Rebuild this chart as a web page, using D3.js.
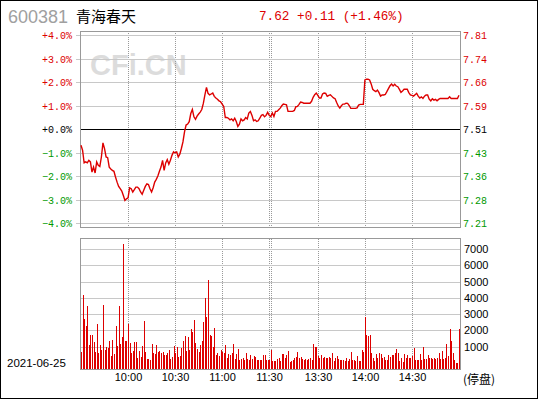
<!DOCTYPE html>
<html>
<head>
<meta charset="utf-8">
<script src="https://cdnjs.cloudflare.com/ajax/libs/d3/7.8.5/d3.min.js"></script>
<style>
  body { margin: 0; background: #fff; }
  svg { display: block; }
  .grid line { stroke: #999; stroke-dasharray: 1,1; }
  .grid .domain { display: none; }
  .lbl text { font-family: "Liberation Mono", "DejaVu Sans Mono", monospace; font-size: 10px; }
  .lbl .domain, .lbl line { display: none; }
  .sans text { font-family: "Liberation Sans", Arial, sans-serif; font-size: 11px; fill: #000; }
  .sans .domain, .sans line { display: none; }
</style>
</head>
<body>
<div id="chart"></div>
<script>
'use strict';

// header
var stockCode = '600381';
var stockName = '青海春天';
var lastPrice = 7.62;
var prevClose = 7.51;
var tradeDate = '2021-06-25';

// x axis: minute index 0..241 (9:30-11:30, 13:00-15:00)
var gridIndexes = [30, 60, 90, 120, 121, 151, 181, 211];
var timeIndexes = [30, 60, 90, 120, 151, 181, 211];
var timeLabels = ['10:00', '10:30', '11:00', '11:30', '13:30', '14:00', '14:30'];

var pctTicks = [4, 3, 2, 1, 0, -1, -2, -3, -4];
var volTicks = [1000, 2000, 3000, 4000, 5000, 6000, 7000];

// percent change vs previous close, one per minute
var pctChange = [
  -0.67, -0.88, -1.42, -1.38, -1.42, -1.31, -1.38, -1.81, -1.60, -1.85,
  -1.38, -1.52, -1.57, -1.17, -0.57, -0.81, -1.17, -1.20, -1.60, -1.68,
  -1.74, -1.78, -2.02, -2.24, -2.42, -2.52, -2.62, -2.81, -3.02, -2.95,
  -2.91, -2.48, -2.52, -2.66, -2.56, -2.45, -2.45, -2.52, -2.66, -2.76,
  -2.59, -2.42, -2.31, -2.34, -2.52, -2.66, -2.48, -2.24, -2.12, -1.98,
  -1.78, -1.60, -1.31, -1.74, -1.42, -1.28, -1.48, -1.31, -1.10, -0.95,
  -1.00, -0.95, -1.17, -1.05, -0.81, -0.53, -0.10, 0.19, 0.23, 0.33,
  0.68, 0.85, 0.54, 0.43, 0.57, 0.66, 0.74, 0.85, 1.11, 1.47,
  1.79, 1.54, 1.47, 1.51, 1.55, 1.41, 1.34, 1.29, 1.22, 1.18,
  1.08, 0.98, 0.51, 0.51, 0.48, 0.41, 0.45, 0.37, 0.48, 0.34,
  0.13, 0.23, 0.45, 0.37, 0.41, 0.51, 0.45, 0.70, 0.77, 0.60,
  0.37, 0.41, 0.34, 0.37, 0.48, 0.60, 0.63, 0.54, 0.60, 0.73,
  0.60, 0.55, 0.70, 0.55, 0.77, 0.77, 0.84, 0.91, 1.01, 1.08,
  1.07, 1.05, 0.77, 0.77, 0.77, 0.77, 0.81, 0.97, 0.98, 1.07,
  1.17, 1.15, 1.12, 1.12, 1.12, 1.12, 1.12, 1.20, 1.37, 1.48,
  1.55, 1.45, 1.34, 1.34, 1.51, 1.55, 1.54, 1.41, 1.45, 1.48,
  1.41, 1.34, 1.31, 1.15, 1.00, 0.91, 1.01, 1.08, 1.08, 1.12,
  1.11, 1.02, 0.90, 0.90, 0.90, 0.90, 0.92, 1.04, 1.07, 1.07,
  1.07, 2.11, 2.14, 2.14, 2.11, 1.94, 1.71, 1.65, 1.61, 1.68,
  1.57, 1.42, 1.47, 1.47, 1.49, 1.61, 1.74, 1.86, 1.93, 1.85,
  1.92, 1.85, 1.82, 1.71, 1.58, 1.64, 1.71, 1.71, 1.71, 1.57,
  1.47, 1.45, 1.42, 1.48, 1.54, 1.42, 1.34, 1.39, 1.32, 1.42,
  1.47, 1.47, 1.29, 1.22, 1.31, 1.25, 1.28, 1.22, 1.28, 1.32,
  1.32, 1.32, 1.32, 1.32, 1.32, 1.39, 1.32, 1.32, 1.32, 1.32,
  1.32, 1.46
];

// volume per minute (lots)
var volume = [
  670, 4160, 2730, 2300, 3530, 1080, 1690, 1690, 1280, 670,
  2420, 590, 1080, 770, 3590, 790, 1000, 930, 1340, 420,
  1400, 530, 2300, 1040, 3480, 1140, 1590, 7320, 1340, 1340,
  2420, 1200, 590, 730, 1280, 1280, 320, 710, 360, 1040,
  2570, 670, 220, 220, 180, 1140, 590, 570, 1080, 670,
  730, 590, 670, 490, 470, 590, 790, 220, 360, 1040,
  590, 1000, 380, 420, 930, 1340, 1650, 730, 1590, 790,
  2060, 1890, 2630, 1240, 870, 670, 1080, 1340, 2500, 3990,
  2830, 5080, 1750, 1650, 1000, 2160, 470, 590, 420, 790,
  670, 590, 1080, 320, 530, 470, 590, 1140, 260, 530,
  870, 180, 220, 320, 180, 590, 260, 180, 470, 260,
  420, 380, 180, 180, 180, 180, 470, 470, 180, 180,
  180, 790, 120, 120, 120, 220, 320, 120, 530, 530,
  320, 470, 730, 60, 120, 180, 320, 380, 670, 320,
  380, 220, 180, 220, 180, 260, 320, 180, 1140, 1000,
  1000, 420, 320, 470, 320, 380, 320, 320, 380, 320,
  590, 120, 320, 420, 260, 180, 180, 180, 120, 320,
  120, 260, 670, 180, 180, 120, 420, 120, 120, 790,
  670, 2810, 1750, 1650, 1750, 590, 320, 120, 530, 320,
  590, 530, 320, 380, 180, 180, 470, 380, 470, 470,
  590, 870, 590, 120, 320, 60, 530, 320, 470, 320,
  320, 420, 930, 180, 180, 180, 530, 180, 1000, 220,
  220, 470, 320, 320, 260, 320, 260, 320, 590, 260,
  730, 260, 320, 1140, 420, 2060, 1340, 590, 180, 20,
  20, 2060
];

function minuteChart() {

  var scope = this;
  var exports = {};

  scope.width = 540;
  scope.height = 400;
  scope.plot = { left: 80, right: 460 };
  scope.price = { top: 31, bottom: 227 };
  scope.vol = { top: 238, bottom: 369 };

  scope.red = '#dd0000';
  scope.green = '#009900';

  scope.xScale = d3.scaleLinear().domain([0, 241]).range([81, 459]);
  scope.xGrid = scope.xScale.copy().interpolate(d3.interpolateRound);
  scope.yPct = d3.scaleLinear().domain([-4, 4]).range([223, 35]);
  scope.yPctGrid = scope.yPct.copy().interpolate(d3.interpolateRound);
  scope.yVol = d3.scaleLinear().domain([0, 7000]).range([363, 249]);
  scope.yVolGrid = scope.yVol.copy().interpolate(d3.interpolateRound);

  function signColor(p) {
    if (p > 0) return scope.red;
    if (p < 0) return scope.green;
    return '#000';
  }

  scope.appendSVG = function(DOMObj) {
    return d3.select(DOMObj)
      .append('svg')
      .attr('width', scope.width)
      .attr('height', scope.height);
  }

  scope.appendHeader = function(svg) {
    svg.append('rect')
      .attr('x', 0.5).attr('y', 0.5)
      .attr('width', 537).attr('height', 398)
      .attr('fill', '#fff')
      .attr('stroke', '#000')
      .attr('shape-rendering', 'crispEdges');

    svg.append('text')
      .attr('x', 8).attr('y', 23)
      .style('font-family', '"Liberation Sans", Arial, sans-serif')
      .style('font-size', '18px')
      .attr('fill', '#a0a0a0')
      .text(stockCode);

    svg.append('text')
      .attr('x', 76).attr('y', 22)
      .style('font-family', '"Noto Sans CJK SC", sans-serif')
      .style('font-size', '15px')
      .attr('fill', '#000')
      .text(stockName);

    var change = lastPrice - prevClose;
    var changePct = change / prevClose * 100;
    svg.append('text')
      .attr('x', 259).attr('y', 20)
      .style('font-family', '"Liberation Mono", monospace')
      .style('font-size', '12.7px')
      .attr('fill', signColor(change))
      .style('white-space', 'pre')
      .text(lastPrice.toFixed(2) + ' ' + d3.format('+.2f')(change) + ' (' + d3.format('+.2f')(changePct) + '%)');

    svg.append('text')
      .attr('x', 90).attr('y', 75)
      .style('font-family', '"Liberation Sans", Arial, sans-serif')
      .style('font-size', '29px')
      .style('font-weight', 'bold')
      .attr('fill', '#dcdcdc')
      .text('CFi.CN');
  }

  // horizontal gridlines (light solid, roughly the tone of the dotted originals)
  scope.appendHGrid = function(svg, yScale, values, x1) {
    svg.append('g')
      .selectAll('line')
      .data(values)
      .enter()
      .append('line')
      .attr('x1', x1)
      .attr('x2', scope.plot.right)
      .attr('y1', function(d) { return yScale(d) + 0.5; })
      .attr('y2', function(d) { return yScale(d) + 0.5; })
      .attr('stroke', '#c8c8c8')
      .attr('stroke-width', 1);
  }

  scope.appendPricePanel = function(svg) {
    var h = scope.price.bottom - scope.price.top;
    var w = scope.plot.right - scope.plot.left;

    // vertical grid
    svg.append('g')
      .attr('class', 'grid')
      .attr('transform', 'translate(0,' + (scope.price.bottom + 1) + ')')
      .call(d3.axisBottom(scope.xGrid).tickValues(gridIndexes).tickSize(-h).tickFormat(''));

    // horizontal grid, with short stubs left of the panel
    scope.appendHGrid(svg, scope.yPctGrid, pctTicks.filter(function(p) { return p !== 0; }), scope.plot.left - 4);

    // previous close line
    svg.append('line')
      .attr('x1', scope.plot.left).attr('x2', scope.plot.right)
      .attr('y1', scope.yPctGrid(0) + 0.5).attr('y2', scope.yPctGrid(0) + 0.5)
      .attr('stroke', '#000');

    var right = svg.append('g')
      .attr('class', 'lbl')
      .attr('transform', 'translate(' + scope.plot.right + ',0)')
      .call(d3.axisRight(scope.yPctGrid).tickValues(pctTicks).tickSize(0).tickPadding(3)
        .tickFormat(function(p) { return (prevClose * (1 + p / 100)).toFixed(2); }));
    right.selectAll('.tick text').attr('fill', signColor);

    var left = svg.append('g')
      .attr('class', 'lbl')
      .attr('transform', 'translate(' + scope.plot.left + ',0)')
      .call(d3.axisLeft(scope.yPctGrid).tickValues(pctTicks).tickSize(0).tickPadding(8)
        .tickFormat(function(p) { return d3.format('+.1f')(p) + '%'; }));
    left.selectAll('.tick text').attr('fill', signColor);

    svg.append('rect')
      .attr('x', scope.plot.left + 0.5).attr('y', scope.price.top + 0.5)
      .attr('width', w).attr('height', h)
      .attr('fill', 'none')
      .attr('stroke', '#999')
      .attr('shape-rendering', 'crispEdges');

    var line = d3.line()
      .x(function(d, i) { return scope.xScale(i); })
      .y(function(d) { return scope.yPct(d) + 0.5; });

    svg.append('path')
      .datum(pctChange)
      .attr('d', line)
      .attr('fill', 'none')
      .attr('stroke', scope.red)
      .attr('stroke-width', 1.4);
  }

  scope.appendVolumePanel = function(svg) {
    var h = scope.vol.bottom - scope.vol.top;
    var w = scope.plot.right - scope.plot.left;

    svg.append('g')
      .attr('class', 'grid')
      .attr('transform', 'translate(0,' + (scope.vol.bottom + 1) + ')')
      .call(d3.axisBottom(scope.xGrid).tickValues(gridIndexes).tickSize(-h).tickFormat(''));

    scope.appendHGrid(svg, scope.yVolGrid, volTicks, scope.plot.left);

    svg.append('g')
      .attr('class', 'sans')
      .attr('transform', 'translate(' + scope.plot.right + ',0)')
      .call(d3.axisRight(scope.yVolGrid).tickValues(volTicks).tickSize(0).tickPadding(4)
        .tickFormat(d3.format('d')));

    svg.append('g')
      .selectAll('rect')
      .data(volume)
      .enter()
      .append('rect')
      .attr('x', function(d, i) { return Math.round(scope.xScale(i)); })
      .attr('y', function(d) { return scope.yVol(d); })
      .attr('width', 1)
      .attr('height', function(d) { return scope.vol.bottom + 1 - scope.yVol(d); })
      .attr('fill', scope.red)
      .attr('shape-rendering', 'crispEdges');

    svg.append('rect')
      .attr('x', scope.plot.left + 0.5).attr('y', scope.vol.top + 0.5)
      .attr('width', w).attr('height', h)
      .attr('fill', 'none')
      .attr('stroke', '#999')
      .attr('shape-rendering', 'crispEdges');

    svg.append('g')
      .attr('class', 'sans')
      .attr('transform', 'translate(0,' + scope.vol.bottom + ')')
      .call(d3.axisBottom(scope.xGrid).tickValues(timeIndexes).tickSize(0).tickPadding(4)
        .tickFormat(function(d, i) { return timeLabels[i]; }));

    svg.append('text')
      .attr('x', 7).attr('y', 367)
      .style('font-family', '"Liberation Sans", Arial, sans-serif')
      .style('font-size', '11.5px')
      .text(tradeDate);

    svg.append('text')
      .attr('x', 463).attr('y', 384)
      .style('font-family', '"Noto Sans CJK SC", sans-serif')
      .style('font-size', '12px')
      .text('(停盘)');
  }

  exports.run = function(DOMObj) {
    var svg = scope.appendSVG(DOMObj);
    scope.appendHeader(svg);
    scope.appendPricePanel(svg);
    scope.appendVolumePanel(svg);
  }
  return exports;
}

minuteChart.call({}).run('#chart');
</script>
</body>
</html>
